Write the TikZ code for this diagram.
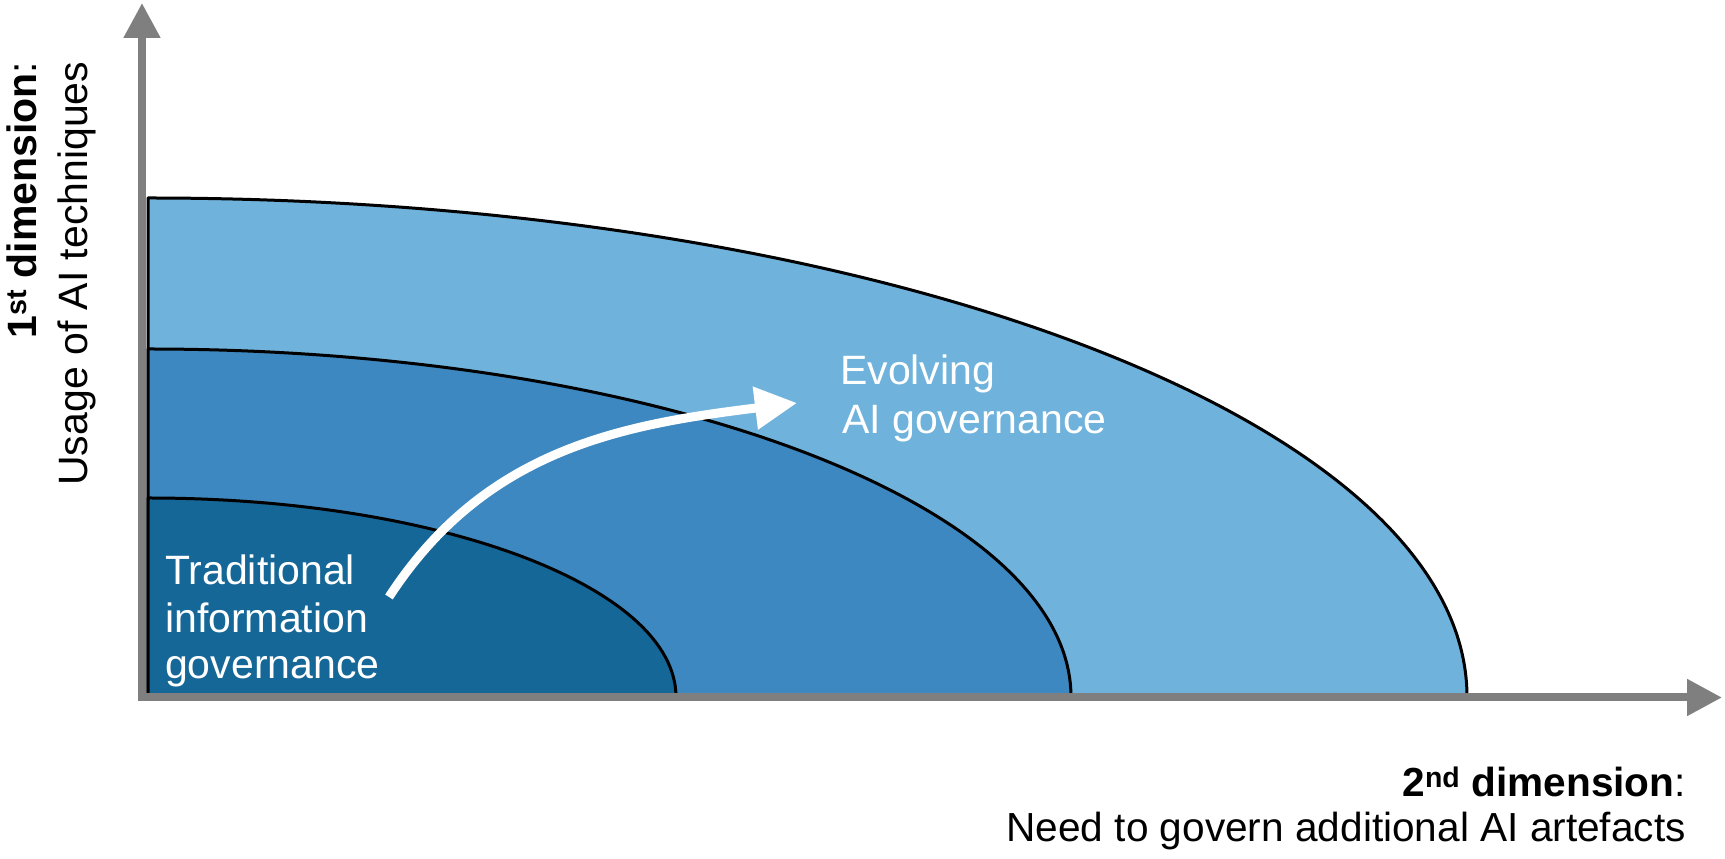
\documentclass[tikz,border=0pt]{standalone}
\usepackage{fontspec}
\setmainfont{Liberation Sans}
\usetikzlibrary{arrows.meta}
\definecolor{darkblue}{RGB}{21,103,151}
\definecolor{midblue}{RGB}{61,136,192}
\definecolor{lightblue}{RGB}{111,178,219}
\definecolor{axisgray}{RGB}{127,127,127}
\begin{document}
\begin{tikzpicture}[x=1pt,y=1pt,
  region/.style={draw=black, line width=3pt, line join=round},
  axisline/.style={draw=axisgray, line width=8pt, -{Triangle[length=35pt,width=35pt]}},
  flowarrow/.style={draw=white, line width=9pt, -{Triangle[length=42pt,width=41pt]}},
  inlabel/.style={text=white, font=\fontsize{41}{47}\selectfont, inner sep=0pt, anchor=base west},
  axislabel/.style={text=black, font=\fontsize{40.6}{45}\selectfont, inner sep=0pt, anchor=base east}]
\useasboundingbox (0,0) rectangle (1725,859);
\fill[white] (0,0) rectangle (1725,859);
\coordinate (O) at (148,162);
% regions
\path[region, fill=lightblue] (O) -- (148,661) arc[start angle=90,end angle=0,x radius=1319,y radius=499] -- cycle;
\path[region, fill=midblue] (O) -- (148,510) arc[start angle=90,end angle=0,x radius=923,y radius=348] -- cycle;
\path[region, fill=darkblue] (O) -- (148,361) arc[start angle=90,end angle=0,x radius=528,y radius=199] -- cycle;
% white arrow
\coordinate (arrstart) at (389,262);
\coordinate (arrend) at (797,456);
\draw[flowarrow] (arrstart) to[out=57,in=187] (arrend);
% axes
\coordinate (ybottom) at (142,158);
\coordinate (ytop) at (142,856);
\coordinate (xleft) at (138,161.5);
\coordinate (xright) at (1722,161.5);
\draw[axisline] (xleft) -- (xright);
\draw[axisline] (ybottom) -- (ytop);
% labels inside
\node[inlabel] (trad1) at (165,274) {Traditional};
\node[inlabel] (trad2) at (165,226) {information};
\node[inlabel] (trad3) at (165,180) {governance};
\node[inlabel] (evo1) at (840,474) {Evolving};
\node[inlabel] (evo2) at (842,425) {AI governance};
% axis labels
\node[axislabel, font=\fontsize{41}{45}\selectfont, rotate=90] (ylab1) at (36,797.5) {\textbf{1\textsuperscript{st} dimension}:};
\node[axislabel, font=\fontsize{41}{45}\selectfont, rotate=90] (ylab2) at (87,797.5) {Usage of AI techniques};
\node[axislabel] (xlab1) at (1686,62) {\textbf{2\textsuperscript{nd} dimension}:};
\node[axislabel] (xlab2) at (1686,17) {Need to govern additional AI artefacts};
\end{tikzpicture}
\end{document}
